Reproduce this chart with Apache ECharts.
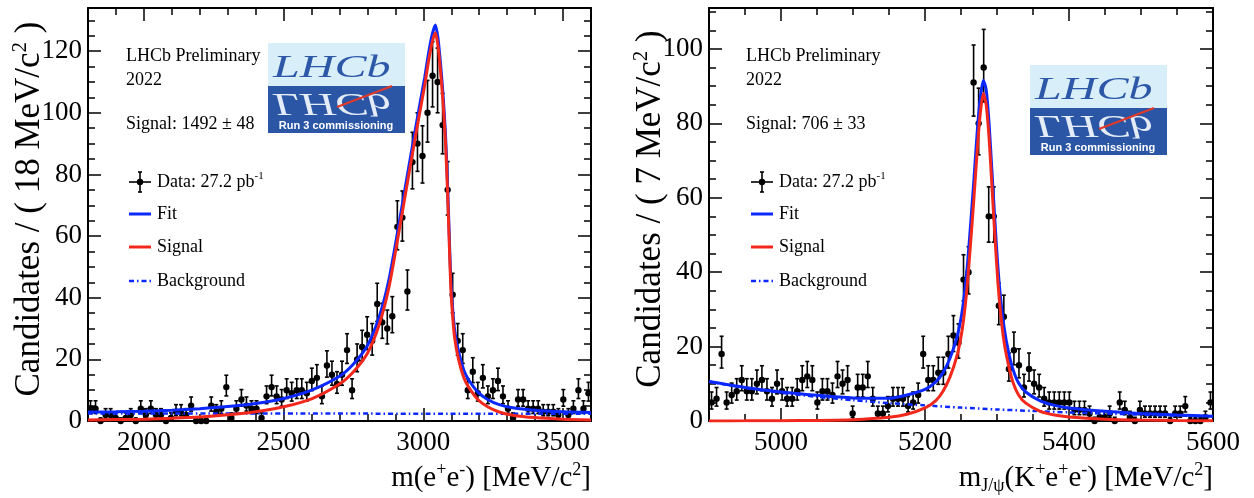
<!DOCTYPE html>
<html>
<head>
<meta charset="utf-8">
<script src="https://cdn.jsdelivr.net/npm/echarts@6/dist/echarts.min.js"></script>
<style>
  html, body { margin: 0; padding: 0; background: #fff; }
  #main { width: 1254px; height: 498px; }
</style>
</head>
<body>
<div id="main"></div>
<script>
  // ---- left panel: m(e+e-), 18 MeV bins from 1800 ----
  var eeBinLo = 1800, eeBinWidth = 18;
  var eeCounts = [4, 4, 0, 2, 2, 1, 0, 1, 2, 0,
                  4, 2, 4, 2, 2, 0, 1, 3, 3, 2,
                  5, 0, 0, 0, 5, 3, 4, 11, 1, 4,
                  7, 5, 4, 4, 1, 8, 11, 8, 7, 10,
                  9, 10, 10, 9, 13, 14, 8, 18, 15, 12,
                  15, 23, 10, 20, 24, 28, 26, 38, 32, 30,
                  34, 63, 66, 42, 84, 90, 86, 100, 112, 110,
                  96, 75, 41, 26, 23, 10, 16, 9, 14, 8,
                  10, 13, 8, 4, 1, 7, 7, 4, 4, 4,
                  3, 3, 3, 2, 7, 2, 4, 10, 4, 9];
  var eeCurveX = [1800, 1900, 2000, 2100, 2200, 2300, 2400, 2500, 2600, 2700, 2750, 2800, 2841, 2876, 2912, 2948, 2983, 3005, 3019, 3032,
                  3043, 3052, 3061, 3070, 3079, 3086, 3092, 3098, 3104, 3112, 3126, 3145, 3162, 3197, 3230, 3269, 3320, 3400, 3500, 3600];
  var eeSignal = [0.3, 0.45, 0.6, 0.9, 1.3, 2.0, 3.0, 4.6, 7.2, 12, 16, 22, 31, 43, 61, 80, 98, 109, 117, 123,
                  126, 122, 114, 104, 91, 76, 60, 44, 35, 27, 20, 14, 11, 6.8, 4.6, 3.0, 1.9, 1.1, 0.6, 0.35];
  var eeFit = [2.9, 3.0, 3.2, 3.5, 4.0, 4.7, 5.7, 7.3, 10, 14.5, 18.5, 24.5, 33.5, 45.5, 63.5, 82.5, 100.5, 111.5, 119.5, 125.5,
               128.5, 124.5, 116.5, 106.5, 93.5, 78.5, 62.5, 46.5, 37.5, 29.5, 22.5, 16.5, 13.4, 9.2, 7.0, 5.4, 4.3, 3.5, 3.0, 2.75];
  var eeBkgX = [1800, 3600];
  var eeBkg = [2.45, 2.35];

  // ---- right panel: m_J/psi(K+e+e-), 7 MeV bins from 4900 ----
  var kBinLo = 4900, kBinWidth = 7;
  var kCounts = [5, 6, 18, 5, 7, 8, 11, 8, 8, 10,
                 11, 8, 6, 10, 8, 6, 6, 8, 11, 12,
                 11, 5, 8, 8, 7, 12, 10, 11, 2, 9,
                 9, 12, 6, 2, 2, 4, 6, 6, 6, 4,
                 5, 7, 18, 11, 11, 13, 13, 18, 23, 21,
                 38, 40, 91, 80, 95, 55, 55, 31, 28, 14,
                 19, 15, 9, 14, 10, 9, 6, 5, 5, 5,
                 5, 5, 3, 3, 3, 2, 0, 1, 1, 2,
                 0, 5, 3, 1, 0, 3, 2, 2, 2, 2,
                 2, 0, 2, 2, 4, 0, 0, 0, 1, 5];
  var kCurveX = [4900, 4950, 5000, 5050, 5100, 5150, 5175, 5200, 5215, 5225, 5235, 5245, 5252, 5258, 5263, 5268, 5273, 5277, 5281,
                 5285, 5289, 5293, 5297, 5301, 5305, 5310, 5316, 5322, 5330, 5340, 5360, 5380, 5400, 5450, 5500, 5550, 5600];
  var kSignal = [0.02, 0.04, 0.08, 0.15, 0.35, 1.0, 1.8, 3.5, 5.5, 8, 12, 18, 25, 35, 47, 60, 74, 83, 88,
                 85, 76, 63, 50, 38, 29, 21, 15, 10.5, 7, 4.8, 2.6, 1.6, 1.1, 0.5, 0.25, 0.12, 0.05];
  var kFit = [10.6, 9.0, 7.8, 6.9, 6.2, 6.1, 7.0, 8.5, 10.5, 13, 17, 23, 30, 40, 52, 65, 79, 87, 91.5,
              89, 80, 67, 54, 42, 33, 25, 18.5, 14, 10.2, 7.8, 5.4, 4.2, 3.5, 2.6, 2.0, 1.6, 1.3];
  var kBkgX = [4900, 4950, 5000, 5050, 5100, 5150, 5200, 5250, 5300, 5350, 5400, 5450, 5500, 5550, 5600];
  var kBkg = [10.6, 8.9, 7.6, 6.5, 5.6, 4.8, 4.2, 3.6, 3.1, 2.7, 2.3, 2.0, 1.7, 1.45, 1.25];

  // ---- ticks ----
  var eeMajor = [2000, 2500, 3000, 3500];
  var eeMinor = [1900, 2100, 2200, 2300, 2400, 2600, 2700, 2800, 2900, 3100, 3200, 3300, 3400, 3500];
  var kMajor = [5000, 5200, 5400];
  var kMinor = [4950, 5050, 5100, 5150, 5250, 5300, 5350, 5450, 5500, 5550];
  var kLabels = [5000, 5200, 5400, 5600];
  var eeYMajor = [20, 40, 60, 80, 100, 120];
  var eeYMinor = [5, 10, 15, 25, 30, 35, 45, 50, 55, 65, 70, 75, 85, 90, 95, 105, 110, 115, 125, 130];
  var eeYLabels = [0, 20, 40, 60, 80, 100, 120];
  var kYMajor = [20, 40, 60, 80, 100];
  var kYMinor = [5, 10, 15, 25, 30, 35, 45, 50, 55, 65, 70, 75, 85, 90, 95, 105, 110];
  var kYLabels = [0, 20, 40, 60, 80, 100];

  var serif = 'Liberation Serif';
  var blue = '#0a28ff', red = '#f2281c';

  function pairs(xs, ys) { return xs.map(function (x, i) { return [x, ys[i]]; }); }

  function histPoints(lo, w, counts) {
    return counts.map(function (n, i) {
      var s = Math.sqrt(n + 0.25);
      return [lo + w * (i + 0.5), n, n - (s - 0.5), n + s + 0.5];
    });
  }

  function plain(v) { return String(v); }

  function xAxes(g, min, max, major, minor, labels) {
    var res = [];
    ['bottom', 'top'].forEach(function (pos) {
      res.push({
        gridIndex: g, type: 'value', min: min, max: max, position: pos,
        splitLine: { show: false },
        axisLine: { show: true, onZero: false, lineStyle: { color: '#000', width: 2 } },
        axisTick: { show: true, inside: true, length: 13, customValues: major, lineStyle: { color: '#000', width: 1.5 } },
        axisLabel: pos === 'bottom'
          ? { show: true, customValues: labels, formatter: plain, margin: 8, color: '#000', fontFamily: serif, fontSize: 27 }
          : { show: false }
      });
      res.push({
        gridIndex: g, type: 'value', min: min, max: max, position: pos,
        splitLine: { show: false }, axisLine: { show: false, onZero: false },
        axisTick: { show: true, inside: true, length: 7, customValues: minor, lineStyle: { color: '#000', width: 1.5 } },
        axisLabel: { show: false }
      });
    });
    return res;
  }

  function yAxes(g, max, major, minor, labels) {
    var res = [];
    ['left', 'right'].forEach(function (pos) {
      res.push({
        gridIndex: g, type: 'value', min: 0, max: max, position: pos,
        splitLine: { show: false },
        axisLine: { show: true, onZero: false, lineStyle: { color: '#000', width: 2 } },
        axisTick: { show: true, inside: true, length: 13, customValues: major, lineStyle: { color: '#000', width: 1.5 } },
        axisLabel: pos === 'left'
          ? { show: true, customValues: labels, formatter: plain, margin: 6, color: '#000', fontFamily: serif, fontSize: 27 }
          : { show: false }
      });
      res.push({
        gridIndex: g, type: 'value', min: 0, max: max, position: pos,
        splitLine: { show: false }, axisLine: { show: false, onZero: false },
        axisTick: { show: true, inside: true, length: 7, customValues: minor, lineStyle: { color: '#000', width: 1.5 } },
        axisLabel: { show: false }
      });
    });
    return res;
  }

  function dataSeries(xi, yi, pts) {
    return {
      type: 'custom', xAxisIndex: xi, yAxisIndex: yi, z: 2, silent: true,
      data: pts,
      renderItem: function (params, api) {
        var p = api.coord([api.value(0), api.value(1)]);
        var t = api.coord([api.value(0), api.value(3)]);
        var b = api.coord([api.value(0), api.value(2)]);
        var st = { stroke: '#000', lineWidth: 1.6 };
        return {
          type: 'group', children: [
            { type: 'line', shape: { x1: p[0], y1: t[1], x2: p[0], y2: b[1] }, style: st },
            { type: 'line', shape: { x1: p[0] - 2, y1: t[1], x2: p[0] + 2, y2: t[1] }, style: st },
            { type: 'line', shape: { x1: p[0] - 2, y1: b[1], x2: p[0] + 2, y2: b[1] }, style: st },
            { type: 'circle', shape: { cx: p[0], cy: p[1], r: 3.2 }, style: { fill: '#000' } }
          ]
        };
      }
    };
  }

  function curve(xi, yi, pts, color, width, dash, z) {
    return {
      type: 'line', xAxisIndex: xi, yAxisIndex: yi, data: pts, symbol: 'none', silent: true,
      smooth: 0.25, z: z, clip: true,
      lineStyle: { color: color, width: width, type: dash || 'solid' }
    };
  }

  var rich = {
    n: { fontFamily: serif, fontSize: 18, lineHeight: 22, fill: '#000' },
    s: { fontFamily: serif, fontSize: 11, lineHeight: 11, verticalAlign: 'top', fill: '#000' }
  };
  var bigRich = {
    n: { fontFamily: serif, fontSize: 29, lineHeight: 34, fill: '#000' },
    s: { fontFamily: serif, fontSize: 18, lineHeight: 18, verticalAlign: 'top', fill: '#000' },
    d: { fontFamily: serif, fontSize: 18, lineHeight: 18, verticalAlign: 'bottom', fill: '#000' }
  };
  var titleRich = {
    n: { fontFamily: serif, fontSize: 35, lineHeight: 40, fill: '#000' },
    s: { fontFamily: serif, fontSize: 21, lineHeight: 21, verticalAlign: 'top', fill: '#000' }
  };

  function txt(x, y, text, r, align, extra) {
    var el = { type: 'text', x: x, y: y, z: 10, silent: true,
      style: { text: text, rich: r, align: align || 'left', verticalAlign: 'middle' } };
    return Object.assign(el, extra || {});
  }

  function logo(x0, y0) {
    return {
      type: 'group', x: x0, y: y0, z: 5, silent: true, children: [
        { type: 'rect', shape: { x: 0, y: 0, width: 137, height: 43 }, style: { fill: '#d8eff9' } },
        { type: 'rect', shape: { x: 0, y: 43, width: 137, height: 47 }, style: { fill: '#2b56a6' } },
        { type: 'text', x: 5, y: 41, scaleX: 1.55, style: { text: 'LHCb', fontFamily: serif, fontStyle: 'italic', fontSize: 31, fill: '#2d58a8', verticalAlign: 'bottom' } },
        { type: 'text', x: 5, y: 44, scaleX: 1.55, scaleY: -1, style: { text: 'LHCb', fontFamily: serif, fontStyle: 'italic', fontSize: 31, fill: '#e4ecf7', verticalAlign: 'bottom' } },
        { type: 'line', shape: { x1: 69, y1: 64, x2: 124, y2: 43 }, style: { stroke: '#e0392b', lineWidth: 2 } },
        { type: 'text', x: 68, y: 83, style: { text: 'Run 3 commissioning', fontFamily: 'Liberation Sans', fontWeight: 'bold', fontSize: 11, fill: '#fff', align: 'center', verticalAlign: 'middle' } }
      ]
    };
  }

  function legend(x0, lx0, lx1) {
    var st = { stroke: '#000', lineWidth: 1.6 };
    var cx = (lx0 + lx1) / 2;
    return [
      { type: 'line', z: 10, shape: { x1: lx0, y1: 182, x2: lx1, y2: 182 }, style: st },
      { type: 'line', z: 10, shape: { x1: cx, y1: 172, x2: cx, y2: 192 }, style: st },
      { type: 'line', z: 10, shape: { x1: cx - 2, y1: 172, x2: cx + 2, y2: 172 }, style: st },
      { type: 'line', z: 10, shape: { x1: cx - 2, y1: 192, x2: cx + 2, y2: 192 }, style: st },
      { type: 'circle', z: 10, shape: { cx: cx, cy: 182, r: 3.2 }, style: { fill: '#000' } },
      txt(x0, 182, '{n|Data: 27.2 pb}{s|-1}', rich),
      { type: 'line', z: 10, shape: { x1: lx0, y1: 214, x2: lx1, y2: 214 }, style: { stroke: blue, lineWidth: 3 } },
      txt(x0, 214, '{n|Fit}', rich),
      { type: 'line', z: 10, shape: { x1: lx0, y1: 247, x2: lx1, y2: 247 }, style: { stroke: red, lineWidth: 3 } },
      txt(x0, 247, '{n|Signal}', rich),
      { type: 'line', z: 10, shape: { x1: lx0, y1: 281, x2: lx1, y2: 281 }, style: { stroke: blue, lineWidth: 2.5, lineDash: [5, 3, 1.5, 3] } },
      txt(x0, 281, '{n|Background}', rich)
    ];
  }

  var chart = echarts.init(document.getElementById('main'));
  var option = {
    animation: false,
    backgroundColor: '#fff',
    grid: [
      { left: 88, top: 8, width: 503, height: 413, outerBoundsMode: 'none', containLabel: false },
      { left: 709, top: 8, width: 504, height: 413, outerBoundsMode: 'none', containLabel: false }
    ],
    xAxis: xAxes(0, 1800, 3600, eeMajor, eeMinor, eeMajor).concat(xAxes(1, 4900, 5600, kMajor, kMinor, kLabels)),
    yAxis: yAxes(0, 134, eeYMajor, eeYMinor, eeYLabels).concat(yAxes(1, 111, kYMajor, kYMinor, kYLabels)),
    series: [
      dataSeries(0, 0, histPoints(eeBinLo, eeBinWidth, eeCounts)),
      curve(0, 0, pairs(eeBkgX, eeBkg), blue, 2.5, [5, 3, 1.5, 3], 3),
      curve(0, 0, pairs(eeCurveX, eeFit), blue, 3, null, 4),
      curve(0, 0, pairs(eeCurveX, eeSignal), red, 3, null, 5),
      dataSeries(4, 4, histPoints(kBinLo, kBinWidth, kCounts)),
      curve(4, 4, pairs(kBkgX, kBkg), blue, 2.5, [5, 3, 1.5, 3], 3),
      curve(4, 4, pairs(kCurveX, kFit), blue, 3, null, 4),
      curve(4, 4, pairs(kCurveX, kSignal), red, 3, null, 5)
    ],
    graphic: [
      txt(126, 56, '{n|LHCb Preliminary}', rich),
      txt(126, 80, '{n|2022}', rich),
      txt(126, 124, '{n|Signal: 1492 ± 48}', rich),
      logo(268, 43),
      txt(746, 56, '{n|LHCb Preliminary}', rich),
      txt(746, 80, '{n|2022}', rich),
      txt(746, 124, '{n|Signal: 706 ± 33}', rich),
      logo(1030, 65),
      txt(30, 209, '{n|Candidates / ( 18 MeV/c}{s|2}{n| )}', titleRich, 'center', { rotation: Math.PI / 2 }),
      txt(651, 209, '{n|Candidates / ( 7 MeV/c}{s|2}{n| )}', titleRich, 'center', { rotation: Math.PI / 2 }),
      txt(591, 478, '{n|m(e}{s|+}{n|e}{s|-}{n|) [MeV/c}{s|2}{n|]}', bigRich, 'right'),
      txt(1213, 478, '{n|m}{d|J/ψ}{n|(K}{s|+}{n|e}{s|+}{n|e}{s|-}{n|) [MeV/c}{s|2}{n|]}', bigRich, 'right')
    ].concat(legend(157, 129, 151)).concat(legend(779, 751, 773))
  };
  chart.setOption(option);
</script>
</body>
</html>
